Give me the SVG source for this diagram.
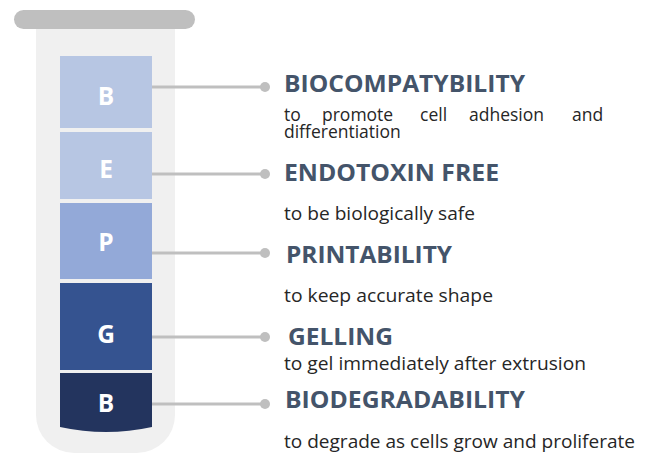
<svg xmlns="http://www.w3.org/2000/svg" width="654" height="454" viewBox="0 0 654 454">
<style>
.lt{font-family:"Open Sans","Noto Sans",sans-serif;font-weight:bold;font-size:24.5px;fill:#fff;text-anchor:middle}
.ti{font-family:"Open Sans","Noto Sans",sans-serif;font-weight:bold;font-size:24px;fill:#44546a}
.tx{font-family:"Open Sans","Noto Sans",sans-serif;font-size:17.5px;fill:#262626}
.cn{stroke:#bfbfbf;stroke-width:3;fill:none}
.dt{fill:#bfbfbf}
</style>
<rect width="654" height="454" fill="#fff"/>
<g id="tube">
<path d="M36 29 H175 V415 A38 38 0 0 1 137 453 H74 A38 38 0 0 1 36 415 Z" fill="#f0f0f0"/>
<rect x="14" y="10" width="181" height="19" rx="9.5" fill="#bfbfbf"/>
</g>
<g id="connectors">
<line class="cn" x1="152" y1="87" x2="265" y2="87"/><circle class="dt" cx="265" cy="87" r="5"/>
<line class="cn" x1="152" y1="174" x2="265" y2="174"/><circle class="dt" cx="265" cy="174" r="5"/>
<line class="cn" x1="152" y1="253" x2="265" y2="253"/><circle class="dt" cx="265" cy="253" r="5"/>
<line class="cn" x1="152" y1="337" x2="265" y2="337"/><circle class="dt" cx="265" cy="337" r="5"/>
<line class="cn" x1="152" y1="404" x2="265" y2="404"/><circle class="dt" cx="265" cy="404" r="5"/>
</g>
<g id="node-b1">
<rect x="60" y="56" width="92" height="72" fill="#b7c6e3"/>
<text class="lt" x="106" y="105">B</text>
</g>
<g id="node-e">
<rect x="60" y="132" width="92" height="67" fill="#b7c6e3"/>
<text class="lt" x="106" y="178">E</text>
</g>
<g id="node-p">
<rect x="60" y="203" width="92" height="76" fill="#93a9d8"/>
<text class="lt" x="106" y="251">P</text>
</g>
<g id="node-g">
<rect x="60" y="283" width="92" height="87" fill="#355390"/>
<text class="lt" x="106" y="343">G</text>
</g>
<g id="node-b2">
<path d="M60 373 H152 V427 Q106 437 60 427 Z" fill="#23345e"/>
<text class="lt" x="106" y="412">B</text>
</g>
<g id="label-biocompatibility">
<text class="ti" x="284" y="92" textLength="241" lengthAdjust="spacingAndGlyphs">BIOCOMPATYBILITY</text>
<text class="tx" y="121"><tspan x="284">to</tspan><tspan x="322">promote</tspan><tspan x="420">cell</tspan><tspan x="469">adhesion</tspan><tspan x="572">and</tspan></text>
<text class="tx" x="284" y="138">differentiation</text>
</g>
<g id="label-endotoxin">
<text class="ti" x="284" y="181" textLength="215" lengthAdjust="spacingAndGlyphs">ENDOTOXIN FREE</text>
<text class="tx" x="284" y="220" textLength="191" lengthAdjust="spacingAndGlyphs">to be biologically safe</text>
</g>
<g id="label-printability">
<text class="ti" x="286" y="263" textLength="166" lengthAdjust="spacingAndGlyphs">PRINTABILITY</text>
<text class="tx" x="284" y="302" textLength="209" lengthAdjust="spacingAndGlyphs">to keep accurate shape</text>
</g>
<g id="label-gelling">
<text class="ti" x="288" y="345" textLength="105" lengthAdjust="spacingAndGlyphs">GELLING</text>
<text class="tx" x="284" y="370" textLength="302" lengthAdjust="spacingAndGlyphs">to gel immediately after extrusion</text>
</g>
<g id="label-biodegradability">
<text class="ti" x="285" y="408" textLength="240" lengthAdjust="spacingAndGlyphs">BIODEGRADABILITY</text>
<text class="tx" x="284" y="448" textLength="351" lengthAdjust="spacingAndGlyphs">to degrade as cells grow and proliferate</text>
</g>
</svg>
